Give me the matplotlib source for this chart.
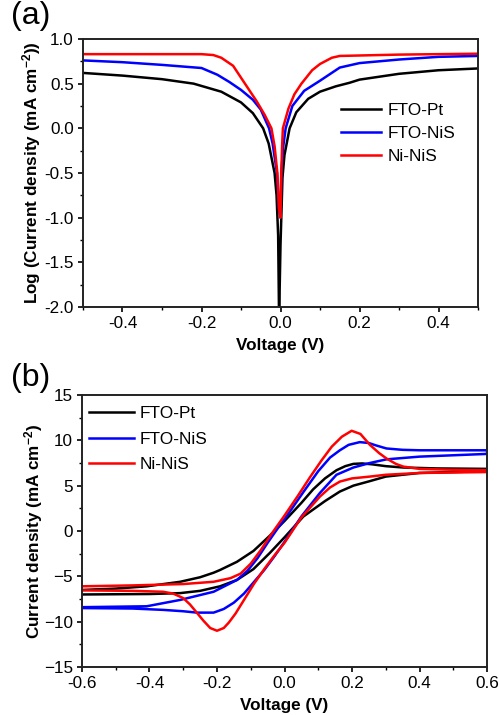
import matplotlib
matplotlib.use("Agg")
import matplotlib.pyplot as plt
from matplotlib.ticker import FormatStrFormatter
import numpy as np

plt.rcParams['font.family'] = ['Liberation Sans', 'DejaVu Sans']
plt.rcParams['mathtext.fontset'] = 'custom'
plt.rcParams['mathtext.rm'] = 'Liberation Sans'
plt.rcParams['mathtext.bf'] = 'Liberation Sans:bold'

# ---- panel (a): log|J| vs V ----
v_pt = [-0.5, -0.4, -0.3, -0.22, -0.15, -0.1, -0.07, -0.044, -0.03, -0.015, -0.01, -0.006,
        -0.004, -0.003, 0.0, 0.005, 0.01, 0.023, 0.04, 0.07, 0.1, 0.14, 0.175, 0.2, 0.3, 0.4, 0.5]
j_pt = [0.62, 0.59, 0.55, 0.50, 0.41, 0.29, 0.17, 0.0, -0.17, -0.5, -0.75, -1.2,
        -2.0, -2.0, -1.3, -0.55, -0.3, 0.0, 0.18, 0.33, 0.41, 0.47, 0.51, 0.545, 0.61, 0.65, 0.67]

v_nis = [-0.5, -0.4, -0.3, -0.2, -0.16, -0.13, -0.1, -0.07, -0.05, -0.029, -0.02, -0.009,
         -0.004, 0.0, 0.002, 0.007, 0.013, 0.03, 0.06, 0.099, 0.15, 0.2, 0.3, 0.4, 0.5]
j_nis = [0.76, 0.74, 0.71, 0.675, 0.60, 0.52, 0.43, 0.32, 0.21, 0.0, -0.17, -0.5,
         -0.9, -1.0, -0.5, -0.2, 0.0, 0.25, 0.42, 0.53, 0.68, 0.73, 0.77, 0.80, 0.81]

v_ni = [-0.5, -0.3, -0.2, -0.17, -0.15, -0.12, -0.09, -0.06, -0.04, -0.023, -0.015, -0.008,
        -0.004, 0.0, 0.002, 0.004, 0.006, 0.02, 0.035, 0.053, 0.08, 0.1, 0.13, 0.15, 0.2, 0.3, 0.5]
j_ni = [0.83, 0.83, 0.83, 0.82, 0.79, 0.70, 0.5, 0.3, 0.15, 0.0, -0.2, -0.5,
        -0.9, -1.0, -0.5, -0.2, 0.0, 0.22, 0.38, 0.5, 0.65, 0.72, 0.79, 0.81, 0.815, 0.825, 0.835]

# ---- panel (b): cyclic voltammograms (forward branch then reverse branch) ----
cv_v_pt = [-0.6, -0.5, -0.408, -0.309, -0.25, -0.21, -0.191, -0.141, -0.092, -0.043, 0.0,
           0.05, 0.085, 0.12, 0.154, 0.18, 0.204, 0.23, 0.26, 0.3, 0.352, 0.45, 0.6,
           0.6, 0.5, 0.4, 0.3, 0.253, 0.204, 0.164, 0.12, 0.056, 0.0, -0.043, -0.092,
           -0.141, -0.191, -0.25, -0.309, -0.4, -0.6]
cv_j_pt = [-6.5, -6.35, -6.1, -5.6, -5.1, -4.6, -4.3, -3.4, -2.2, -0.5, 1.1,
           3.1, 4.6, 5.8, 6.7, 7.15, 7.4, 7.45, 7.35, 7.15, 7.0, 6.9, 6.85,
           6.6, 6.5, 6.4, 6.0, 5.5, 5.0, 4.35, 3.3, 1.6, -0.7, -2.4, -4.2,
           -5.4, -6.1, -6.6, -6.85, -6.95, -7.0]

cv_v_nis = [-0.6, -0.408, -0.309, -0.21, -0.141, -0.11, -0.08, -0.05, -0.02, 0.0, 0.056, 0.1,
            0.135, 0.164, 0.19, 0.223, 0.25, 0.27, 0.302, 0.35, 0.4, 0.6,
            0.6, 0.5, 0.4, 0.302, 0.253, 0.204, 0.154, 0.105, 0.05, 0.0, -0.03, -0.06,
            -0.09, -0.12, -0.15, -0.18, -0.21, -0.26, -0.3, -0.359, -0.45, -0.6]
cv_j_nis = [-8.4, -8.3, -7.6, -6.7, -5.4, -4.4, -3.0, -1.3, 0.3, 1.3, 4.3, 6.6,
            8.1, 8.9, 9.5, 9.8, 9.7, 9.45, 9.1, 8.95, 8.9, 8.9,
            8.5, 8.35, 8.2, 7.9, 7.5, 7.0, 6.2, 4.2, 1.6, -1.2, -2.8, -4.3,
            -5.6, -6.9, -7.9, -8.6, -9.0, -9.0, -8.85, -8.7, -8.55, -8.5]

cv_v_ni = [-0.6, -0.45, -0.3, -0.21, -0.16, -0.13, -0.1, -0.07, -0.04, 0.0, 0.04, 0.075,
           0.11, 0.14, 0.17, 0.199, 0.225, 0.253, 0.28, 0.302, 0.33, 0.352, 0.4, 0.5, 0.6,
           0.6, 0.4, 0.3, 0.253, 0.2, 0.164, 0.135, 0.105, 0.05, 0.0, -0.03, -0.06,
           -0.09, -0.12, -0.145, -0.165, -0.18, -0.2, -0.22, -0.24, -0.26, -0.28, -0.3,
           -0.33, -0.36, -0.45, -0.6]
cv_j_ni = [-6.1, -6.0, -5.85, -5.6, -5.2, -4.7, -3.6, -2.1, -0.4, 1.7, 3.9, 5.9,
           7.8, 9.3, 10.4, 11.05, 10.7, 9.5, 8.6, 8.0, 7.4, 7.1, 6.85, 6.75, 6.7,
           6.5, 6.4, 6.2, 6.0, 5.8, 5.45, 4.8, 3.8, 1.5, -1.3, -2.7, -4.2,
           -5.8, -7.6, -9.1, -10.1, -10.7, -11.0, -10.7, -9.9, -9.0, -8.1, -7.4,
           -6.9, -6.7, -6.6, -6.55]

labels = ['FTO-Pt', 'FTO-NiS', 'Ni-NiS']
colors = ['#000000', '#0000ff', '#ff0000']
lw = 1.8

fig = plt.figure(figsize=(4.99, 7.15), dpi=100)


def style_axes(ax):
    for sp in ax.spines.values():
        sp.set_linewidth(1.4)
        sp.set_color('#222222')
    ax.tick_params(which='major', direction='out', length=3.5, width=1.2,
                   labelsize=12.3, pad=3)
    ax.tick_params(which='minor', direction='out', length=2.2, width=1.0)


# (a)
ax1 = fig.add_axes([0.1663, 0.5706, 0.7917, 0.3749])
ax1.plot(v_pt, j_pt, color=colors[0], lw=lw, label=labels[0])
ax1.plot(v_nis, j_nis, color=colors[1], lw=lw, label=labels[1])
ax1.plot(v_ni, j_ni, color=colors[2], lw=lw, label=labels[2])
ax1.set_xlim(-0.5, 0.5)
ax1.set_ylim(-2.0, 1.0)
ax1.set_xticks([-0.4, -0.2, 0.0, 0.2, 0.4])
ax1.set_xticks(np.arange(-0.5, 0.51, 0.1), minor=True)
ax1.set_yticks(np.arange(-2.0, 1.01, 0.5))
ax1.set_yticks(np.arange(-2.0, 1.01, 0.25), minor=True)
ax1.yaxis.set_major_formatter(FormatStrFormatter('%.1f'))
ax1.xaxis.set_major_formatter(FormatStrFormatter('%.1f'))
style_axes(ax1)
ax1.set_xlabel('Voltage (V)', fontsize=12.3, fontweight='bold', labelpad=5)
ax1.set_ylabel(r'Log (Current density (mA cm$\mathbf{^{-2}}$))', fontsize=12.3,
               fontweight='bold', labelpad=1)
ax1.legend(loc='upper left', bbox_to_anchor=(0.653, 0.76), frameon=False, fontsize=12.4,
           handlelength=2.3, handletextpad=0.4, labelspacing=0.45,
           borderpad=0, borderaxespad=0)
fig.text(0.022, 0.999, '(a)', fontsize=23, va='top', ha='left')

# (b)
ax2 = fig.add_axes([0.1643, 0.0671, 0.8117, 0.3805])
ax2.plot(cv_v_pt, cv_j_pt, color=colors[0], lw=lw, label=labels[0])
ax2.plot(cv_v_nis, cv_j_nis, color=colors[1], lw=lw, label=labels[1])
ax2.plot(cv_v_ni, cv_j_ni, color=colors[2], lw=lw, label=labels[2])
ax2.set_xlim(-0.6, 0.6)
ax2.set_ylim(-15, 15)
ax2.set_xticks(np.arange(-0.6, 0.61, 0.2))
ax2.set_xticks(np.arange(-0.6, 0.61, 0.1), minor=True)
ax2.set_yticks(np.arange(-15, 16, 5))
ax2.set_yticks(np.arange(-15, 16, 2.5), minor=True)
ax2.xaxis.set_major_formatter(FormatStrFormatter('%.1f'))
style_axes(ax2)
ax2.set_xlabel('Voltage (V)', fontsize=12.3, fontweight='bold', labelpad=5)
ax2.set_ylabel(r'Current density (mA cm$\mathbf{^{-2}}$)', fontsize=12.3,
               fontweight='bold', labelpad=-1)
ax2.legend(loc='upper left', bbox_to_anchor=(0.017, 0.96), frameon=False, fontsize=12.4,
           handlelength=2.6, handletextpad=0.35, labelspacing=0.62,
           borderpad=0, borderaxespad=0)
fig.text(0.022, 0.492, '(b)', fontsize=23, va='top', ha='left')

fig.savefig('out.png', dpi=100)
